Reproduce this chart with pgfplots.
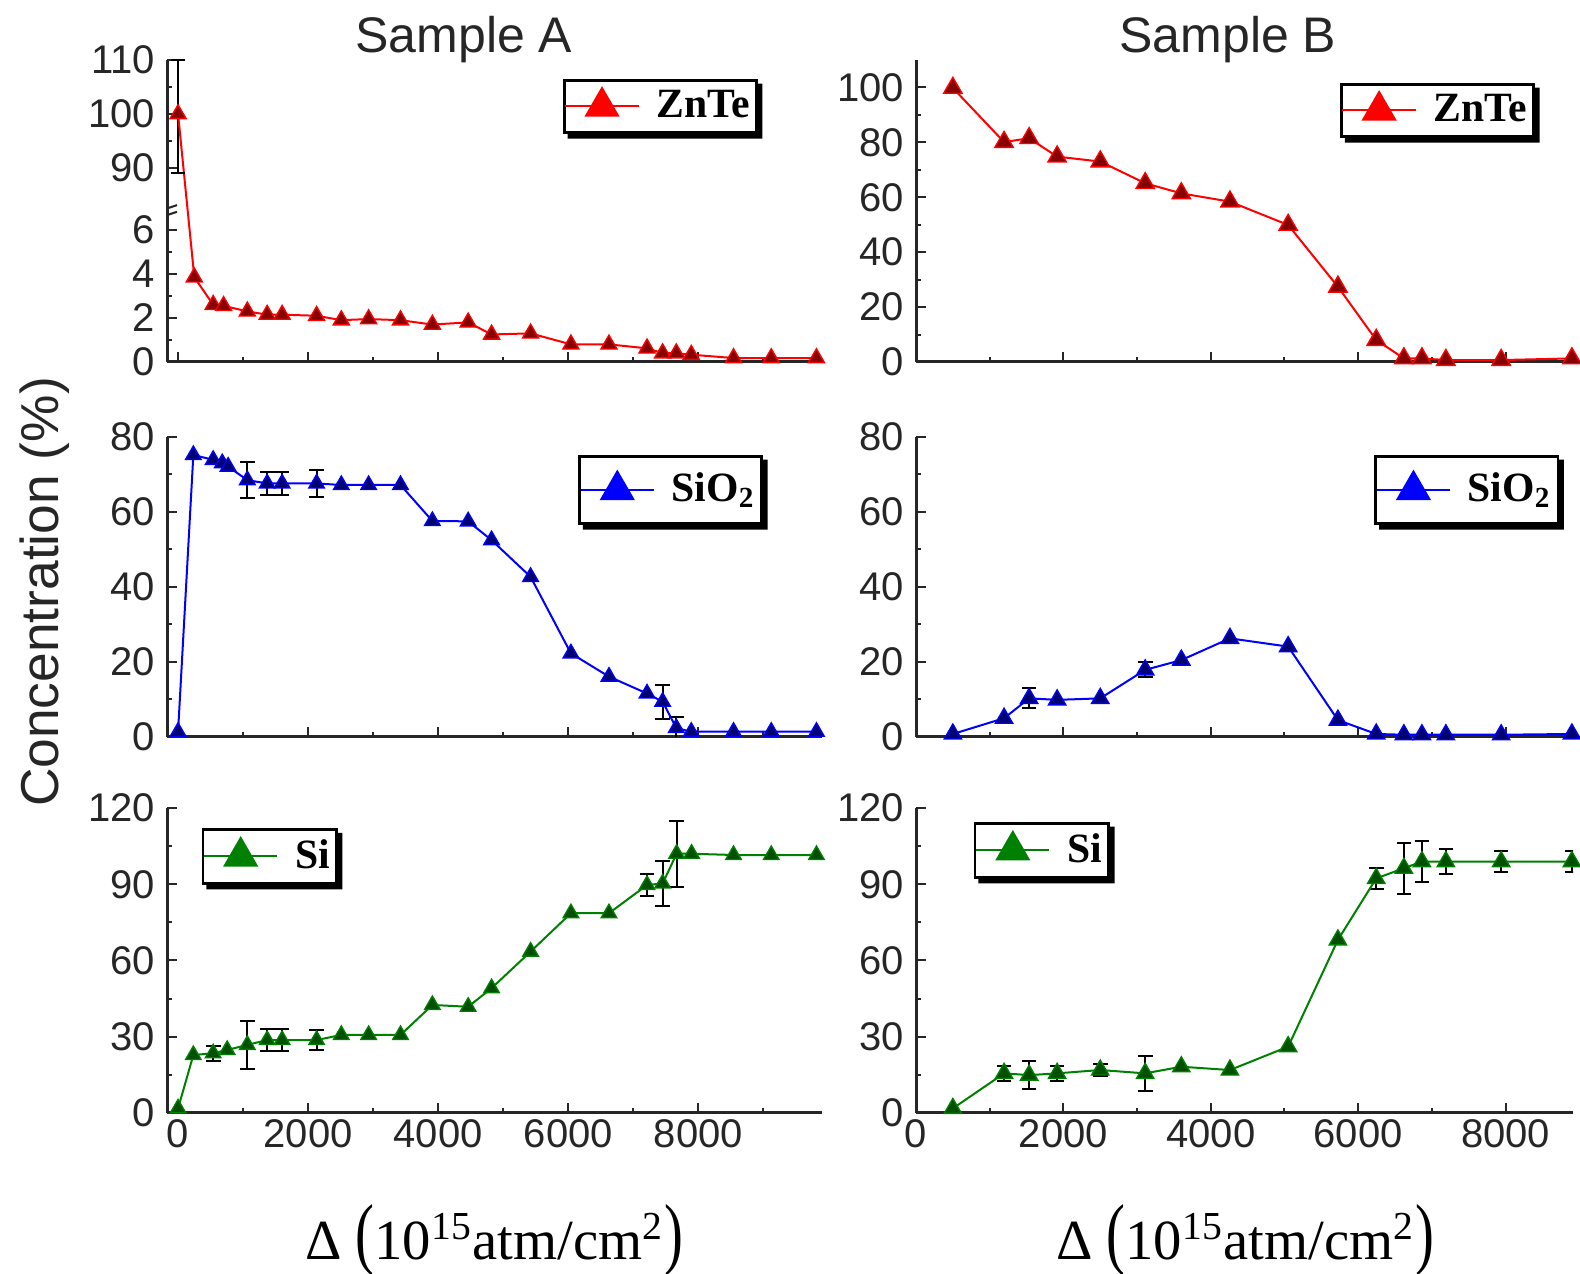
\documentclass[border=0pt]{standalone}
\usepackage{fontspec}
\setmainfont{Liberation Sans}
\newfontfamily\serif{Liberation Serif}
\usepackage{graphicx}
\usepackage{pgfplots}
\pgfplotsset{compat=1.18}

\definecolor{zred}{RGB}{255,0,0}
\definecolor{zredd}{RGB}{135,0,0}
\definecolor{sblue}{RGB}{0,0,255}
\definecolor{sblued}{RGB}{0,0,115}
\definecolor{sgreen}{RGB}{0,128,0}
\definecolor{sgreend}{RGB}{0,80,0}

\newcommand\legshadow[1]{%
  \fill[black] ([shift={(1.4pt,-1.4pt)}]#1.south west) -- ([shift={(1.4pt,-1.4pt)}]#1.south east)
     -- ([shift={(1.4pt,-1.4pt)}]#1.north east) -- ([shift={(0pt,-1.4pt)}]#1.north east)
     -- (#1.south east) -- ([shift={(1.4pt,0pt)}]#1.south west) -- cycle;}

\pgfplotsset{
  panel/.style={
    scale only axis,
    anchor=south west,
    axis x line*=bottom,
    axis y line*=left,
    axis line style={line width=0.9pt, black!85},
    tick align=inside,
    major tick length=3pt,
    minor tick length=1.6pt,
    every tick/.style={black!85, line width=0.6pt},
    /pgf/number format/assume math mode=true,
    /pgf/number format/1000 sep={},
    scaled ticks=false,
    tick label style={font=\fontsize{12}{12}\selectfont, text=black!85},
    xticklabel style={yshift=1.5pt},
    xtick={0,2000,4000,6000,8000},
    minor xtick={1000,3000,5000,7000,9000},
    legend cell align=left,
    legend style={draw=black, line width=0.8pt, fill=white,
       font=\serif\bfseries\fontsize{12.5}{13}\selectfont,
       inner xsep=0pt, inner ysep=1pt},
    legend image code/.code={\draw[mark repeat=2, mark phase=2, #1] plot coordinates {(0pt,0pt) (11pt,0pt) (22pt,0pt)};\path (25pt,0pt);},
  },
  colA/.style={width=196.5pt, xmin=-170, xmax=9900},
  colB/.style={width=197.1pt, xmin=0, xmax=8915},
  zn/.style={color=zred, line width=0.6pt, mark=triangle*, mark size=#1,
     mark options={fill=zredd, draw=zred, line width=0.4pt, solid}},
  so/.style={color=sblue, line width=0.6pt, mark=triangle*, mark size=#1,
     mark options={fill=sblued, draw=sblue, line width=0.4pt, solid}},
  si/.style={color=sgreen, line width=0.6pt, mark=triangle*, mark size=#1,
     mark options={fill=sgreend, draw=sgreen, line width=0.4pt, solid}},
  ebar/.style={forget plot, draw=none, mark=none,
     error bars/.cd, y dir=both, y explicit,
     error bar style={draw=black, line width=0.6pt, solid},
     error mark options={draw=black, rotate=90, mark size=2.2pt, line width=0.6pt}},
}

\begin{document}
\begin{tikzpicture}
\useasboundingbox (0,0) rectangle (474pt,382.2pt);

% ---------------- Top-left: ZnTe, Sample A (broken y axis) ----------------
\begin{axis}[panel, colA, at={(50.1pt,273.6pt)}, height=90.6pt,
  ymin=0, ymax=110,
  y coord trafo/.code={\pgfmathparse{#1<40 ? #1 : 6.9+(#1-82.2)*0.24545}},
  ytick={0,2,4,6,90,100,110}, yticklabels={0,2,4,6,90,100,110},
  minor ytick={1,3,5,95,105},
  xticklabels={},
  legend style={at={(0.902,0.937)}, anchor=north east, name=LA}]
\addplot[forget plot, black, line width=0.6pt, mark=-, mark size=2.2pt, mark options={solid}] coordinates {(0,89) (0,110)};
\addplot[zn=2.8pt, forget plot] table[x=x,y=y] {
x y
0 100
250 3.85
540 2.6
700 2.55
1065 2.3
1370 2.15
1600 2.15
2130 2.1
2510 1.9
2930 1.95
3420 1.9
3910 1.7
4460 1.8
4820 1.25
5420 1.3
6040 0.8
6625 0.8
7210 0.62
7450 0.4
7660 0.4
7890 0.33
8540 0.18
9120 0.18
9815 0.18
};
\addlegendimage{zred, line width=0.6pt, mark=triangle*, mark size=5.5pt, mark options={fill=zred, draw=zred, solid}}
\addlegendentry{ZnTe}
\draw[line width=0.6pt, black!85] ([xshift=-3pt,yshift=-2.5pt]axis cs:-170,6.9) -- ++(6pt,2pt);
\draw[line width=0.6pt, black!85] ([xshift=-3pt,yshift=-0.5pt]axis cs:-170,6.9) -- ++(6pt,2pt);
\end{axis}
\legshadow{LA}

% ---------------- Top-right: ZnTe, Sample B ----------------
\begin{axis}[panel, colB, at={(274.8pt,273.6pt)}, height=90.6pt,
  ymin=0, ymax=110,
  ytick={0,20,40,60,80,100}, minor y tick num=1,
  xticklabels={},
  legend style={at={(0.942,0.924)}, anchor=north east, name=LB}]
\addplot[zn=3.2pt, forget plot] table[x=x,y=y] {
x y
500 99.8
1195 80.1
1535 81.5
1915 74.8
2500 73
3110 65.1
3600 61.4
4260 58.4
5050 49.9
5725 27.4
6245 8
6620 1.3
6865 1.3
7190 0.7
7940 0.7
8900 1.3
};
\addlegendimage{zred, line width=0.6pt, mark=triangle*, mark size=5.5pt, mark options={fill=zred, draw=zred, solid}}
\addlegendentry{ZnTe}
\end{axis}
\legshadow{LB}

% ---------------- Middle-left: SiO2, Sample A ----------------
\begin{axis}[panel, colA, at={(50.1pt,161.1pt)}, height=90pt,
  ymin=0, ymax=80,
  ytick={0,20,40,60,80}, minor y tick num=1,
  xticklabels={},
  legend style={at={(0.910,0.94)}, anchor=north east, inner ysep=3pt, name=LC}]
\addplot[ebar] table[x=x,y=y,y error=e] {
x y e
1065 68.5 4.9
1370 67.6 3.1
1600 67.6 3.1
2130 67.6 3.5
7450 9.4 4.5
7660 2.4 3
};
\addplot[so=2.7pt, forget plot] table[x=x,y=y] {
x y
0 1.4
235 75.2
540 73.9
680 73
770 72.1
1065 68.5
1370 67.6
1600 67.6
2130 67.6
2510 67.2
2930 67.2
3420 67.2
3910 57.6
4460 57.5
4820 52.5
5420 42.7
6040 22.3
6625 16.1
7210 11.6
7450 9.4
7660 2.4
7890 1.4
8540 1.4
9120 1.4
9815 1.4
};
\addlegendimage{sblue, line width=0.6pt, mark=triangle*, mark size=5.5pt, mark options={fill=sblue, draw=sblue, solid}}
\addlegendentry{SiO\textsubscript{2}}
\end{axis}
\legshadow{LC}

% ---------------- Middle-right: SiO2, Sample B ----------------
\begin{axis}[panel, colB, at={(274.8pt,161.1pt)}, height=90pt,
  ymin=0, ymax=80,
  ytick={0,20,40,60,80}, minor y tick num=1,
  xticklabels={},
  legend style={at={(0.979,0.94)}, anchor=north east, inner ysep=3pt, name=LD}]
\addplot[ebar] table[x=x,y=y,y error=e] {
x y e
1535 10.3 2.7
3110 17.9 2
};
\addplot[so=3pt, forget plot] table[x=x,y=y] {
x y
500 0.8
1195 5.0
1535 10.3
1915 9.9
2500 10.3
3110 17.9
3600 20.5
4260 26.3
5050 24.1
5725 4.5
6245 0.8
6620 0.6
6865 0.6
7190 0.6
7940 0.6
8900 0.8
};
\addlegendimage{sblue, line width=0.6pt, mark=triangle*, mark size=5.5pt, mark options={fill=sblue, draw=sblue, solid}}
\addlegendentry{SiO\textsubscript{2}}
\end{axis}
\legshadow{LD}

% ---------------- Bottom-left: Si, Sample A ----------------
\begin{axis}[panel, colA, at={(50.1pt,48.3pt)}, height=91.5pt,
  ymin=0, ymax=120,
  ytick={0,30,60,90,120}, minor y tick num=1,
  legend style={at={(0.053,0.934)}, anchor=north west, name=LE}]
\addplot[ebar] table[x=x,y=y,y error=e] {
x y e
540 23.5 3
1065 26.8 9.5
1370 28.7 4.5
1600 28.7 4.5
2130 28.7 4
7210 89.7 4.5
7450 90.3 9
7665 102 13
};
\addplot[si=2.7pt, forget plot] table[x=x,y=y] {
x y
0 1.8
235 22.8
540 23.5
755 24.8
1065 26.8
1370 28.7
1600 28.7
2130 28.7
2510 30.7
2930 30.7
3420 30.7
3910 42.5
4460 41.8
4820 49.1
5420 63.5
6040 78.6
6625 78.6
7210 89.7
7450 90.3
7665 102
7895 102
8540 101.5
9120 101.5
9815 101.5
};
\addlegendimage{sgreen, line width=0.6pt, mark=triangle*, mark size=5.5pt, mark options={fill=sgreen, draw=sgreen, solid}}
\addlegendentry{Si}
\end{axis}
\legshadow{LE}

% ---------------- Bottom-right: Si, Sample B ----------------
\begin{axis}[panel, colB, at={(274.8pt,48.3pt)}, height=91.5pt,
  ymin=0, ymax=120,
  ytick={0,30,60,90,120}, minor y tick num=1,
  legend style={at={(0.088,0.954)}, anchor=north west, name=LF}]
\addplot[ebar] table[x=x,y=y,y error=e] {
x y e
1195 15.6 3
1535 14.9 5.5
1915 15.6 3
2500 16.9 2.5
3110 15.6 7
6245 92.3 4
6620 96.3 10
6865 98.9 8
7190 98.9 5
7940 98.9 4
8900 98.9 4
};
\addplot[si=3pt, forget plot] table[x=x,y=y] {
x y
500 1.8
1195 15.6
1535 14.9
1915 15.6
2500 16.9
3110 15.6
3600 18.2
4260 16.9
5050 26.1
5725 68.1
6245 92.3
6620 96.3
6865 98.9
7190 98.9
7940 98.9
8900 98.9
};
\addlegendimage{sgreen, line width=0.6pt, mark=triangle*, mark size=5.5pt, mark options={fill=sgreen, draw=sgreen, solid}}
\addlegendentry{Si}
\end{axis}
\legshadow{LF}

% ---------------- Labels ----------------
\node[font=\fontsize{15}{15}\selectfont, text=black!85] at (139.2pt,370.2pt) {Sample A};
\node[font=\fontsize{15}{15}\selectfont, text=black!85] at (368.4pt,370.2pt) {Sample B};
\node[rotate=90, font=\fontsize{16}{16}\selectfont, text=black!85] at (13.5pt,204.6pt) {Concentration (\%)};
\node[anchor=base, font=\serif\fontsize{17}{17}\selectfont] at (148.2pt,4.2pt) {Δ \scalebox{1}[1.4]{(}10\textsuperscript{15}atm/cm\textsuperscript{2}\scalebox{1}[1.4]{)}};
\node[anchor=base, font=\serif\fontsize{17}{17}\selectfont] at (373.5pt,4.2pt) {Δ \scalebox{1}[1.4]{(}10\textsuperscript{15}atm/cm\textsuperscript{2}\scalebox{1}[1.4]{)}};
\end{tikzpicture}
\end{document}
